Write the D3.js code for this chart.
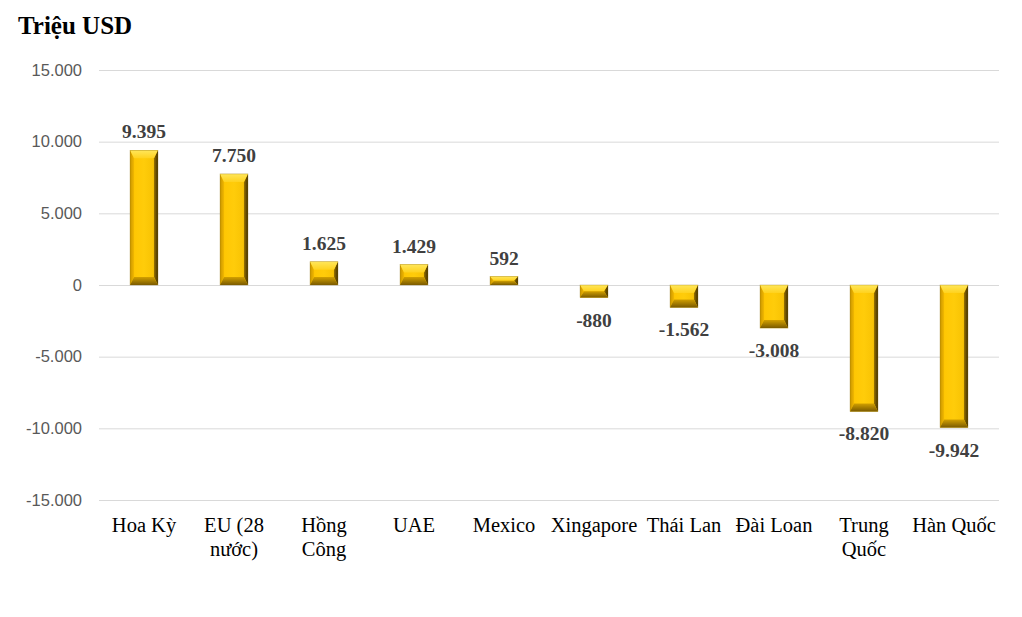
<!DOCTYPE html>
<html><head><meta charset="utf-8">
<script src="https://cdn.jsdelivr.net/npm/d3@7"></script>
<style>body{margin:0;background:#fff}svg{display:block}</style>
</head><body>
<script>
const categories = [["Hoa Kỳ"],["EU (28","nước)"],["Hồng","Công"],["UAE"],["Mexico"],["Xingapore"],["Thái Lan"],["Đài Loan"],["Trung","Quốc"],["Hàn Quốc"]];
const values = [9395, 7750, 1625, 1429, 592, -880, -1562, -3008, -8820, -9942];
const valueLabels = ["9.395","7.750","1.625","1.429","592","-880","-1.562","-3.008","-8.820","-9.942"];
const yTicks = [15000,10000,5000,0,-5000,-10000,-15000];
const yTickLabels = ["15.000","10.000","5.000","0","-5.000","-10.000","-15.000"];

const W=1022,H=617;
const svg=d3.select("body").append("svg").attr("width",W).attr("height",H);
const x=d3.scaleBand().domain(d3.range(categories.length)).range([99,999]).paddingInner(0.69).paddingOuter(0.345);
const y=d3.scaleLinear().domain([-15000,15000]).range([500,70]);

const defs=svg.append("defs");
function grad(id,dir,stops){
  const g=defs.append("linearGradient").attr("id",id);
  if(dir==="h"){g.attr("x1",0).attr("y1",0).attr("x2",1).attr("y2",0);}else{g.attr("x1",0).attr("y1",0).attr("x2",0).attr("y2",1);}
  stops.forEach(s=>g.append("stop").attr("offset",s[0]).attr("stop-color",s[1]));
}
grad("gFront","h",[[0,"#FFC400"],[0.5,"#FFCC0A"],[1,"#F5BE00"]]);
grad("gLeft","h",[[0,"#C99600"],[1,"#F2B800"]]);
grad("gRight","h",[[0,"#9A7400"],[1,"#3C2C00"]]);
grad("gTop","v",[[0,"#FFE65A"],[1,"#FFD21E"]]);
grad("gBot","v",[[0,"#D2A000"],[1,"#7A5A00"]]);

// title
svg.append("text").attr("x",18).attr("y",34).text("Triệu USD")
  .attr("font-family","Liberation Serif, Times New Roman, serif").attr("font-weight","bold").attr("font-size",25).attr("fill","#000");

// grid + y axis
const ya=svg.append("g").attr("transform","translate(99,0)")
  .call(d3.axisLeft(y).tickValues(yTicks).tickSize(-900).tickPadding(17).tickFormat((d,i)=>yTickLabels[i]));
ya.select(".domain").remove();
ya.selectAll(".tick line").attr("stroke","#d9d9d9").attr("stroke-width",1);
ya.selectAll(".tick text").attr("font-family","Liberation Sans, Arial, sans-serif").attr("font-size",16.5).attr("fill","#595959");

// bars
const bars=svg.append("g");
values.forEach((v,i)=>{
  const x0=x(i), w=x.bandwidth(), x1=x0+w;
  const yTop=Math.min(y(v),y(0)), yBot=Math.max(y(v),y(0));
  const h=yBot-yTop;
  const b=Math.min(4, h/2), bt=Math.min(8,h/2);
  const g=bars.append("g");
  g.append("rect").attr("x",x0).attr("y",yTop).attr("width",w).attr("height",h).attr("fill","url(#gFront)");
  g.append("path").attr("d",`M${x0},${yTop}L${x0+b},${yTop+bt}L${x0+b},${yBot-bt}L${x0},${yBot}Z`).attr("fill","url(#gLeft)");
  g.append("path").attr("d",`M${x1},${yTop}L${x1-b},${yTop+bt}L${x1-b},${yBot-bt}L${x1},${yBot}Z`).attr("fill","url(#gRight)");
  g.append("path").attr("d",`M${x0},${yTop}L${x1},${yTop}L${x1-b},${yTop+bt}L${x0+b},${yTop+bt}Z`).attr("fill","url(#gTop)");
  g.append("path").attr("d",`M${x0},${yBot}L${x1},${yBot}L${x1-b},${yBot-bt}L${x0+b},${yBot-bt}Z`).attr("fill","url(#gBot)");
  g.append("rect").attr("x",x0).attr("y",yTop).attr("width",w).attr("height",h).attr("fill","none").attr("stroke","#8a6a00").attr("stroke-width",0.6).attr("stroke-opacity",0.5);
});

// value labels
svg.append("g").selectAll("text").data(values).join("text")
  .attr("x",(d,i)=>x(i)+x.bandwidth()/2)
  .attr("y",d=>d>=0? y(d)-12 : y(d)+29)
  .attr("text-anchor","middle")
  .attr("font-family","Liberation Serif, Times New Roman, serif").attr("font-weight","bold").attr("font-size",19.5).attr("fill","#404040")
  .text((d,i)=>valueLabels[i]);

// category labels
const cl=svg.append("g").selectAll("text").data(categories).join("text")
  .attr("x",(d,i)=>x(i)+x.bandwidth()/2).attr("y",532)
  .attr("text-anchor","middle")
  .attr("font-family","Liberation Serif, Times New Roman, serif").attr("font-size",20.5).attr("fill","#000");
cl.each(function(d){
  const t=d3.select(this);
  d.forEach((line,j)=>t.append("tspan").attr("x",t.attr("x")).attr("dy",j?24:0).text(line));
});
</script>
</body></html>
